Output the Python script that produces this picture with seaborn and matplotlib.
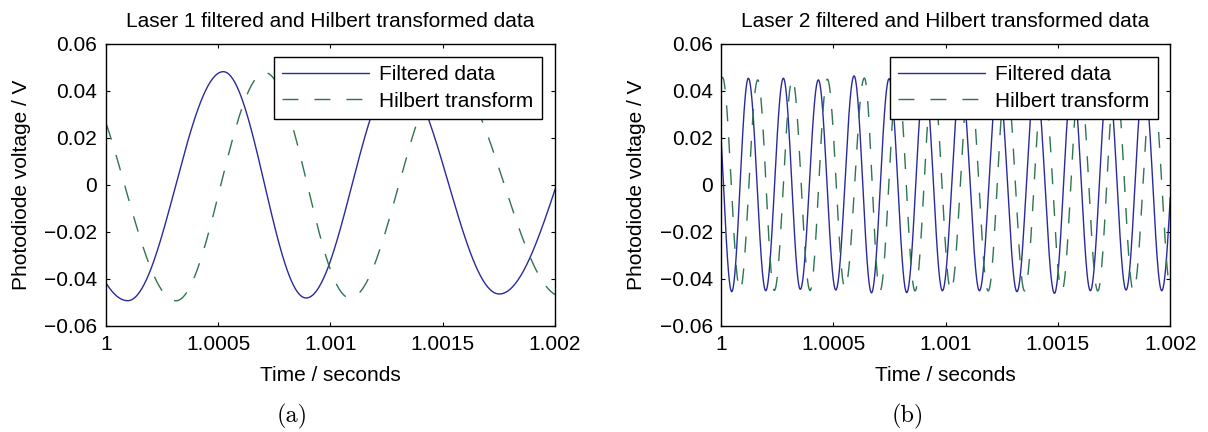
import numpy as np
import pandas as pd
import matplotlib
matplotlib.use("Agg")
import matplotlib.pyplot as plt
import seaborn as sns

# ---------------- data (extrema; points just outside
# the visible window are included so the clipped curves start/end correctly) ---
laser1_filt_t = [0.99956, 1.000098, 1.0005235, 1.000892, 1.001300, 1.001752, 1.002268]
laser1_filt_v = [0.0480, -0.04935, 0.0482, -0.0482, 0.0478, -0.0465, 0.0480]

laser1_hilb_t = [0.99986, 1.000312, 1.000709, 1.0010875, 1.001520, 1.002030]
laser1_hilb_v = [0.0480, -0.0494, 0.0478, -0.0482, 0.0475, -0.0475]

laser2_filt_t = [0.9999744, 1.0000475, 1.0001217, 1.000199, 1.0002776, 1.000353,
                 1.0004334, 1.000511, 1.0005924, 1.000670, 1.0007485, 1.000827,
                 1.0009065, 1.000986, 1.0010685, 1.001151, 1.0012345, 1.001318,
                 1.0014015, 1.001485, 1.001565, 1.001645, 1.0017245, 1.001804,
                 1.0018835, 1.001963, 1.002045]
laser2_filt_v = [0.0450, -0.0455, 0.0454, -0.0451, 0.0454, -0.0445,
                 0.0447, -0.0448, 0.0464, -0.0460, 0.0452, -0.0459,
                 0.0452, -0.0451, 0.0452, -0.0451, 0.0452, -0.0455,
                 0.0452, -0.0462, 0.0452, -0.0451, 0.0452, -0.0448,
                 0.0452, -0.0451, 0.0452]

laser2_hilb_t = [0.999925, 1.000006, 1.0000846, 1.0001634, 1.0002374, 1.0003176,
                 1.0003964, 1.0004735, 1.000552, 1.0006383, 1.000708, 1.000786,
                 1.000864, 1.000944, 1.001024, 1.001107, 1.001190, 1.001270,
                 1.001352, 1.001436, 1.001518, 1.001598, 1.001678, 1.0017575,
                 1.001837, 1.001921, 1.002005]
laser2_hilb_v = [-0.0450, 0.0458, -0.0448, 0.0447, -0.0450, 0.0451,
                 -0.0450, 0.0450, -0.0440, 0.0455, -0.0452, 0.0452,
                 -0.0452, 0.0452, -0.0452, 0.0452, -0.0452, 0.0452,
                 -0.0452, 0.0452, -0.0452, 0.0452, -0.0452, 0.0452,
                 -0.0452, 0.0452, -0.0452]

titles = ["Laser 1 filtered and Hilbert transformed data",
          "Laser 2 filtered and Hilbert transformed data"]
series_names = ["Filtered data", "Hilbert transform"]
panel_tags = ["(a)", "(b)"]
x_ticks = [1.0, 1.0005, 1.001, 1.0015, 1.002]
x_tick_labels = ["1", "1.0005", "1.001", "1.0015", "1.002"]
y_ticks = [-0.06, -0.04, -0.02, 0.0, 0.02, 0.04, 0.06]
y_tick_labels = ["\u22120.06", "\u22120.04", "\u22120.02", "0", "0.02", "0.04", "0.06"]


def smooth_path(t_ext, v_ext, n=80):
    """Trace the signal between successive read extrema as half-cosine arcs."""
    ts, vs = [], []
    for i in range(len(t_ext) - 1):
        s = np.linspace(0.0, 1.0, n, endpoint=False)
        ts.append(t_ext[i] + s * (t_ext[i + 1] - t_ext[i]))
        vs.append(v_ext[i + 1] + (v_ext[i] - v_ext[i + 1]) * (1 + np.cos(np.pi * s)) / 2)
    ts.append([t_ext[-1]])
    vs.append([v_ext[-1]])
    return np.concatenate(ts), np.concatenate(vs)


sns.set_theme(style="white")
plt.rcParams["font.family"] = ["Liberation Sans", "DejaVu Sans"]
plt.rcParams["axes.unicode_minus"] = True

BLUE = "#2a2a9c"
GREEN = "#2e7550"
FS = 15

fig = plt.figure(figsize=(12.08, 4.32), dpi=100)
ax_pos = [[0.0875, 0.2461, 0.3719, 0.6521],
          [0.5969, 0.2461, 0.3717, 0.6521]]
legend_anchor = [(0.9704, 0.955), (0.9726, 0.955)]
tag_x = [0.2421, 0.7517]

panels = [(laser1_filt_t, laser1_filt_v, laser1_hilb_t, laser1_hilb_v),
          (laser2_filt_t, laser2_filt_v, laser2_hilb_t, laser2_hilb_v)]

for k, (ft, fv, ht, hv) in enumerate(panels):
    ax = fig.add_axes(ax_pos[k])
    x1, y1 = smooth_path(ft, fv)
    x2, y2 = smooth_path(ht, hv)
    df1 = pd.DataFrame({"t": x1, "v": y1})
    df2 = pd.DataFrame({"t": x2, "v": y2})
    sns.lineplot(data=df1, x="t", y="v", ax=ax, color=BLUE, lw=1.0,
                 estimator=None, sort=False, label=series_names[0])
    sns.lineplot(data=df2, x="t", y="v", ax=ax, color=GREEN, lw=1.0,
                 linestyle=(0, (11.5, 11.5)),
                 estimator=None, sort=False, label=series_names[1])

    ax.set_xlim(1.0, 1.002)
    ax.set_ylim(-0.06, 0.06)
    ax.set_xticks(x_ticks)
    ax.set_xticklabels(x_tick_labels)
    ax.set_yticks(y_ticks)
    ax.set_yticklabels(y_tick_labels)
    ax.tick_params(direction="in", length=3.2, width=0.8, top=True, right=True,
                   bottom=True, left=True, labelsize=FS, colors="black", pad=6)
    ax.tick_params(axis="x", pad=7)
    for sp in ax.spines.values():
        sp.set_color("black")
        sp.set_linewidth(1.0)
    ax.set_facecolor("white")
    ax.set_xlabel("Time / seconds", fontsize=FS, color="black", labelpad=8)
    ax.set_ylabel("Photodiode voltage / V", fontsize=FS, color="black", labelpad=9.5)
    ax.set_title(titles[k], fontsize=FS, color="black", pad=12)

    leg = ax.legend(loc="upper right", bbox_to_anchor=legend_anchor[k],
                    borderaxespad=0.0, fontsize=FS, handlelength=4.18,
                    handletextpad=0.48, labelspacing=0.37, borderpad=0.4,
                    frameon=True, fancybox=False, framealpha=1.0)
    fr = leg.get_frame()
    fr.set_edgecolor("black")
    fr.set_linewidth(1.0)
    fr.set_facecolor("white")
    for txt in leg.get_texts():
        txt.set_color("black")

    fig.text(tag_x[k], 0.036, panel_tags[k], family="cmr10", fontsize=17.5,
             ha="center", va="center", color="black")

fig.savefig("out.png", dpi=100, facecolor="white")
